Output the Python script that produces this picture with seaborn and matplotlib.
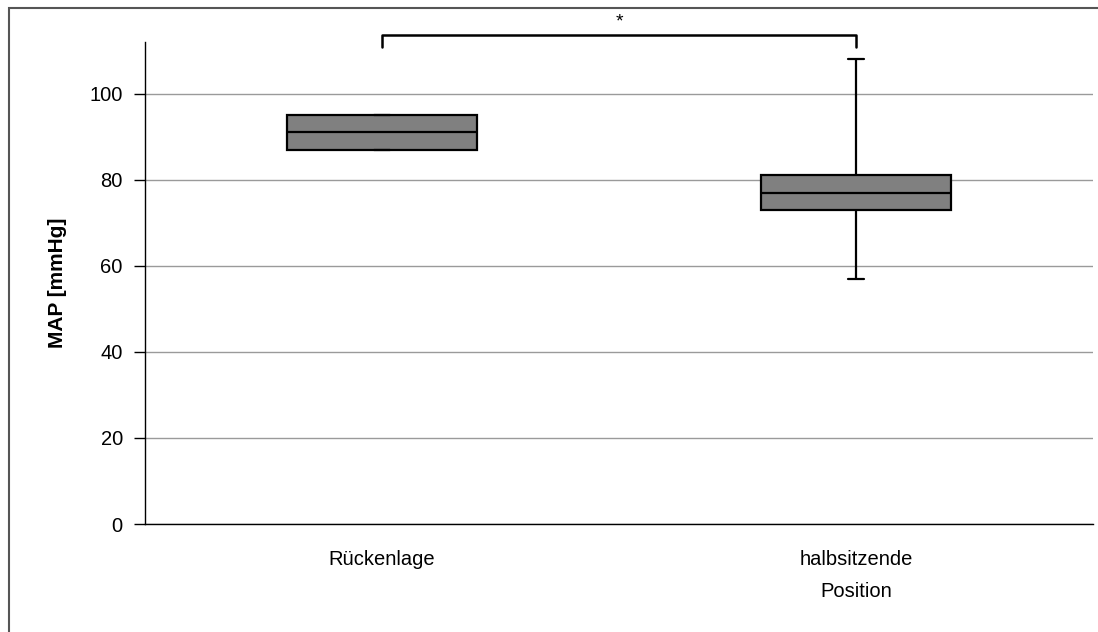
import seaborn as sns
import pandas as pd
from matplotlib import pyplot as plt
from matplotlib.patches import Rectangle

gruppen = ["Rückenlage", "halbsitzende\nPosition"]
rueckenlage = [87, 87, 91, 95, 95]
halbsitzend = [57, 73, 77, 81, 108]
y_ticks = [0, 20, 40, 60, 80, 100]

df = pd.DataFrame({
    "gruppe": [gruppen[0]] * len(rueckenlage) + [gruppen[1]] * len(halbsitzend),
    "MAP": rueckenlage + halbsitzend,
})

sns.set_style("white")
plt.rcParams['font.family'] = ['Liberation Sans', 'DejaVu Sans']
plt.rcParams['text.color'] = 'black'
plt.rcParams['xtick.color'] = 'black'
plt.rcParams['ytick.color'] = 'black'
plt.rcParams['axes.labelcolor'] = 'black'

fig = plt.figure(figsize=(10.98, 6.32), dpi=100)
ax = fig.add_axes([145 / 1098, 1 - 524 / 632, (1093 - 145) / 1098, (524 - 42) / 632])

ax.yaxis.grid(True, color="#9a9a9a", lw=1)
ax.set_axisbelow(True)

sns.boxplot(data=df, x="gruppe", y="MAP", order=gruppen, ax=ax,
            color="#808080", saturation=1, linecolor="black", linewidth=1.6,
            width=0.4, whis=(0, 100), capwidths=0.032)

ax.set_xlim(-0.5, 1.5)
ax.set_ylim(0, 112)
ax.set_yticks(y_ticks)
ax.set_xticks([-0.5, 0.5, 1.5], minor=True)
ax.tick_params(axis="x", which="major", length=0, pad=19, labelsize=14.5)
ax.tick_params(axis="x", which="minor", length=7, width=1, direction="out")
ax.tick_params(axis="y", length=8, width=1, direction="out", pad=8, labelsize=14.5, left=True)
for t in ax.get_xticklabels():
    t.set_linespacing(1.85)

ax.set_xlabel("")
ax.set_ylabel("MAP [mmHg]", fontsize=15, fontweight="bold", labelpad=16)

for s in ["top", "right"]:
    ax.spines[s].set_visible(False)
for s in ["left", "bottom"]:
    ax.spines[s].set_color("black")
    ax.spines[s].set_linewidth(1)

# Signifikanzklammer
ax.plot([0, 0, 1, 1], [110.8, 113.6, 113.6, 110.8], color="black", lw=1.8, clip_on=False)
ax.text(0.5, 114.6, "*", ha="center", va="bottom", fontsize=14)

# Rahmen um die Grafik
fig.add_artist(Rectangle((9 / 1098, -0.5), 3, 0.5 + 1 - 8 / 632, transform=fig.transFigure,
                         fill=False, edgecolor="#555555", lw=1.5))

fig.savefig("out.png", dpi=100)
